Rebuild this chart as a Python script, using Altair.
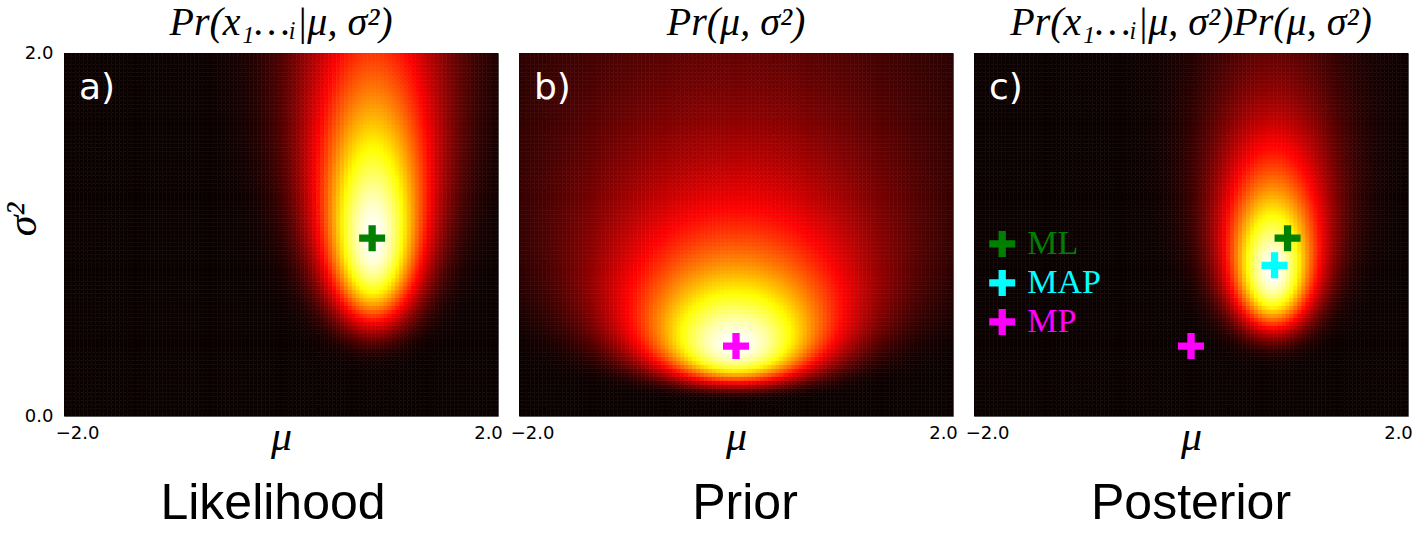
import numpy as np
import pandas as pd
import altair as alt

# ---------------- values ----------------
MU_RANGE = [-2.0, 2.0]          # horizontal axis (mu)
VAR_RANGE = [0.0, 2.0]          # vertical axis (sigma^2)
N_MU, N_VAR = 110, 92           # heat-map grid resolution

# likelihood: summary statistics of the observed data
n_samples = 8
sample_mean = 0.85
sample_var = 0.98

# normal-inverse-gamma prior parameters (alpha, beta, gamma, delta)
prior_alpha = 1.0
prior_beta = 1.0
prior_gamma = 1.0
prior_delta = 0.0

# markers (label, mu, sigma^2) for each panel
marks_a_label = ["ML"]
marks_a_mu = [0.84]
marks_a_var = [0.98]
marks_b_label = ["MP"]
marks_b_mu = [0.0]
marks_b_var = [0.385]
marks_c_label = ["ML", "MAP", "MP"]
marks_c_mu = [0.89, 0.77, 0.0]
marks_c_var = [0.98, 0.83, 0.385]
MARK_COLORS = {"ML": "#008000", "MAP": "#00ffff", "MP": "#ff00ff"}

# in-panel legend of panel c
legend_labels = ["ML", "MAP", "MP"]
legend_mu = [-1.74, -1.74, -1.74]
legend_var = [0.948, 0.733, 0.518]

panel_letters = ["a)", "b)", "c)"]
panel_titles = ["Pr(x₁…ᵢ|μ, σ²)", "Pr(μ, σ²)", "Pr(x₁…ᵢ|μ, σ²)Pr(μ, σ²)"]
panel_names = ["Likelihood", "Prior", "Posterior"]
name_shift = [-8, 9, 0]

# ---------------- grids ----------------
W, H = 434, 363
dmu = (MU_RANGE[1] - MU_RANGE[0]) / N_MU
dv = (VAR_RANGE[1] - VAR_RANGE[0]) / N_VAR
mu0 = MU_RANGE[0] + np.arange(N_MU) * dmu
v0 = VAR_RANGE[0] + np.arange(N_VAR) * dv
MU0, V0 = np.meshgrid(mu0, v0)
MUc, Vc = MU0 + dmu / 2, V0 + dv / 2

log_lik = (-(n_samples / 2) * np.log(Vc)
           - n_samples * (sample_var + (MUc - sample_mean) ** 2) / (2 * Vc))
log_prior = (-0.5 * np.log(Vc) - (prior_alpha + 1) * np.log(Vc)
             - (2 * prior_beta + prior_gamma * (prior_delta - MUc) ** 2) / (2 * Vc))
log_post = log_lik + log_prior


def norm(lg):
    p = np.exp(lg - lg.max())
    return np.round(p, 3)


def grid_df(lg):
    return pd.DataFrame({"mu0": np.round(MU0.ravel(), 4),
                         "v0": np.round(V0.ravel(), 4),
                         "p": norm(lg).ravel()})


# matplotlib "hot" colormap
hot = alt.Scale(domain=[0, 0.365079, 0.746032, 1],
                range=["#0b0000", "#ff0000", "#ffff00", "#ffffff"],
                interpolate="rgb", clamp=True)

PLUS = "M-1,-0.28H-0.28V-1H0.28V-0.28H1V0.28H0.28V1H-0.28V0.28H-1Z"

xscale = alt.Scale(domain=MU_RANGE, nice=False, zero=False)
yscale = alt.Scale(domain=VAR_RANGE, nice=False, zero=False)

MATH_FONT = "Liberation Serif"

xaxis = alt.Axis(values=[-2, 2], format=".1f", title="μ", grid=False, domain=False,
                 ticks=False, labelFont="DejaVu Sans", labelFontSize=18,
                 labelColor="black", labelPadding=8, labelFlush=False,
                 labelAlign="center",
                 labelOffset={"condition": {"test": "datum.value < 0", "value": 13},
                              "value": -10},
                 titleFont=MATH_FONT,
                 titleFontStyle="italic", titleFontWeight="normal",
                 titleFontSize=42, titleColor="black",
                 titleBaseline="alphabetic", titleY=33, titleX=W / 2)
yaxis = alt.Axis(values=[0, 2], format=".1f", title="σ²", grid=False, domain=False,
                 ticks=False, labelFont="DejaVu Sans", labelFontSize=18,
                 labelColor="black", labelPadding=11, titleFont=MATH_FONT,
                 titleFontStyle="italic", titleFontWeight="normal",
                 titleFontSize=42, titleColor="black", titleAngle=-90,
                 titleBaseline="alphabetic", titleAlign="center",
                 titleX=-29, titleY=166)


def txt(s, **kw):
    return alt.Chart(pd.DataFrame({"t": [s]})).mark_text(**kw)


def panel(lg, idx, labels, mus, vars_, show_y, legend=False):
    heat = alt.Chart(grid_df(lg)).transform_calculate(
        mu1=f"datum.mu0 + {dmu}", v1=f"datum.v0 + {dv}"
    ).mark_rect(strokeWidth=0.6, clip=True).encode(
        x=alt.X("mu0:Q", scale=xscale, axis=xaxis),
        x2="mu1:Q",
        y=alt.Y("v0:Q", scale=yscale, axis=yaxis if show_y else None),
        y2="v1:Q",
        fill=alt.Fill("p:Q", scale=hot, legend=None),
        stroke=alt.Stroke("p:Q", scale=hot, legend=None),
    )
    mdf = pd.DataFrame({"label": labels, "mu": mus, "var": vars_,
                        "col": [MARK_COLORS[l] for l in labels]})
    pts = alt.Chart(mdf).mark_point(shape=PLUS, filled=True, size=676, opacity=1,
                                    strokeWidth=0).encode(
        x=alt.X("mu:Q", scale=xscale),
        y=alt.Y("var:Q", scale=yscale),
        color=alt.Color("col:N", scale=None),
    )
    letter = txt(panel_letters[idx], font="DejaVu Sans", fontSize=36, color="white",
                 align="left", baseline="alphabetic").encode(
        text="t:N", x=alt.value(15), y=alt.value(46))
    name = txt(panel_names[idx], font="Liberation Sans", fontSize=50, color="black",
               align="center", baseline="alphabetic").encode(
        text="t:N", x=alt.value(W / 2 + name_shift[idx]), y=alt.value(H + 103))
    title = txt(panel_titles[idx], font=MATH_FONT, fontStyle="italic", fontSize=40,
                color="black", align="center", baseline="alphabetic").encode(
        text="t:N", x=alt.value(W / 2), y=alt.value(-18))
    layers = [heat, pts, letter, name, title]
    if legend:
        ldf = pd.DataFrame({"label": legend_labels, "mu": legend_mu, "var": legend_var,
                            "col": [MARK_COLORS[l] for l in legend_labels]})
        lpts = alt.Chart(ldf).mark_point(shape=PLUS, filled=True, size=676, opacity=1,
                                         strokeWidth=0).encode(
            x=alt.X("mu:Q", scale=xscale), y=alt.Y("var:Q", scale=yscale),
            color=alt.Color("col:N", scale=None))
        ltxt = alt.Chart(ldf).mark_text(font="Liberation Serif", fontSize=34,
                                        align="left", baseline="middle", dx=25).encode(
            x=alt.X("mu:Q", scale=xscale), y=alt.Y("var:Q", scale=yscale),
            text="label:N", color=alt.Color("col:N", scale=None))
        layers += [lpts, ltxt]
    return alt.layer(*layers).properties(width=W, height=H)


pa = panel(log_lik, 0, marks_a_label, marks_a_mu, marks_a_var, True)
pb = panel(log_prior, 1, marks_b_label, marks_b_mu, marks_b_var, False)
pc = panel(log_post, 2, marks_c_label, marks_c_mu, marks_c_var, False, legend=True)

chart = alt.hconcat(pa, pb, pc, spacing=21, bounds="flush").properties(
    padding={"left": 0, "top": 2, "right": 2, "bottom": 2},
    background="white",
).configure_view(stroke="#555555", strokeWidth=1)

chart.save("out.html", embed_options={"renderer": "svg", "actions": False})
